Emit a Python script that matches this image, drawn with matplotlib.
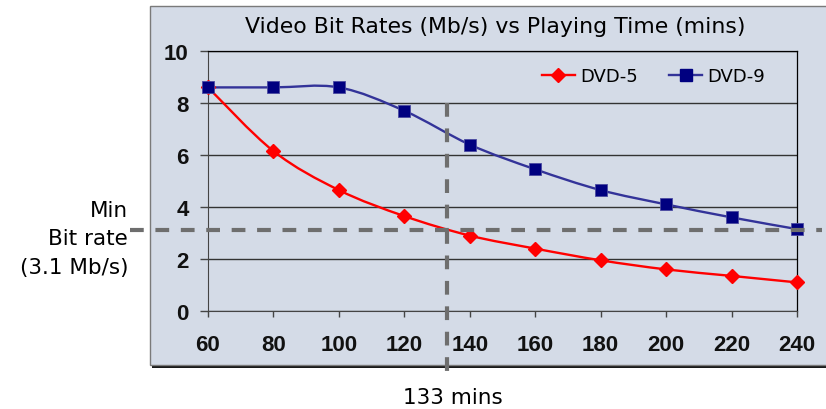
import numpy as np
import matplotlib
matplotlib.use("Agg")
import matplotlib.pyplot as plt
from matplotlib.path import Path
from matplotlib.patches import PathPatch, Rectangle
from matplotlib.lines import Line2D

# Chart data
playing_time = [60, 80, 100, 120, 140, 160, 180, 200, 220, 240]
dvd5_rate = [8.6, 6.15, 4.65, 3.65, 2.9, 2.4, 1.95, 1.6, 1.35, 1.1]
dvd9_rate = [8.6, 8.6, 8.6, 7.7, 6.4, 5.45, 4.65, 4.1, 3.6, 3.15]
min_bit_rate = 3.1
min_time = 133
y_ticks = [0, 2, 4, 6, 8, 10]

bg = '#D4DBE7'


def smooth_path(xs, ys):
    # Excel-style smoothed line: Catmull-Rom segments drawn as cubic Beziers
    pts = np.column_stack([xs, ys]).astype(float)
    n = len(pts)
    verts = [pts[0]]
    codes = [Path.MOVETO]
    for i in range(n - 1):
        p0 = pts[max(i - 1, 0)]
        p1 = pts[i]
        p2 = pts[i + 1]
        p3 = pts[min(i + 2, n - 1)]
        c1 = p1 + (p2 - p0) / 6.0
        c2 = p2 - (p3 - p1) / 6.0
        verts += [c1, c2, p2]
        codes += [Path.CURVE4] * 3
    return Path(verts, codes)


fig = plt.figure(figsize=(8.26, 4.10), dpi=100)
fig.patch.set_facecolor('white')

# Outer chart box with drop shadow (runs off the right edge)
W, H = 826.0, 410.0
x0, y0, x1, y1 = 150, 7, 832, 366
fig.patches.append(Rectangle(((x0 + 2) / W, 1 - (y1 + 3) / H), (x1 - x0) / W, (y1 - y0) / H,
                             transform=fig.transFigure, facecolor='#1a1a1a', edgecolor='none', zorder=-3))
fig.patches.append(Rectangle((x0 / W, 1 - y1 / H), (x1 - x0) / W, (y1 - y0) / H,
                             transform=fig.transFigure, facecolor=bg, edgecolor='#7a7a7a',
                             linewidth=1.0, zorder=-2))

ax = fig.add_axes([208 / W, 1 - 312 / H, 589 / W, 260 / H])
ax.set_facecolor(bg)
ax.set_xlim(60, 240)
ax.set_ylim(0, 10)
ax.set_xticks(playing_time)
ax.set_yticks(y_ticks)
ax.tick_params(axis='both', labelsize=16, width=1, color='#444444')
ax.tick_params(axis='x', length=4.5, pad=12)
ax.tick_params(axis='y', length=6, pad=8)
for lbl in ax.get_xticklabels() + ax.get_yticklabels():
    lbl.set_fontweight('bold')
    lbl.set_fontfamily('Liberation Sans')
    lbl.set_color('#111111')
for s in ['top', 'right']:
    ax.spines[s].set_color('black')
    ax.spines[s].set_linewidth(0.9)
ax.spines['left'].set_color('#444444')
ax.spines['bottom'].set_color('#444444')
ax.grid(axis='y', color='#333333', linewidth=1.0)
ax.set_axisbelow(True)

# Smoothed series lines + markers
ax.add_patch(PathPatch(smooth_path(playing_time, dvd5_rate), facecolor='none',
                       edgecolor='#FF0000', linewidth=1.7, zorder=3))
ax.add_patch(PathPatch(smooth_path(playing_time, dvd9_rate), facecolor='none',
                       edgecolor='#333399', linewidth=1.7, zorder=3))
ax.plot(playing_time, dvd5_rate, linestyle='none', marker='D', markersize=7,
        color='#FF0000', zorder=4, clip_on=False)
ax.plot(playing_time, dvd9_rate, linestyle='none', marker='s', markersize=9,
        color='#000080', markeredgecolor='#4a4aa0', markeredgewidth=0.6, zorder=4, clip_on=False)

# Dashed reference lines
ax.plot([36.2, 247.6], [min_bit_rate, min_bit_rate], linestyle=(0, (3.3, 2.8)), color='#6E6E6E',
        linewidth=3, clip_on=False, zorder=5)
ax.plot([min_time, min_time], [8.0, -2.55], linestyle=(0, (3.3, 2.8)), color='#6E6E6E',
        linewidth=3, clip_on=False, zorder=5)

handles = [Line2D([0], [0], color='#FF0000', marker='D', markersize=7, linewidth=1.7),
           Line2D([0], [0], color='#333399', marker='s', markersize=9, markerfacecolor='#000080',
                  markeredgecolor='#000080', linewidth=1.7)]
ax.legend(handles, ['DVD-5', 'DVD-9'], loc='center right', bbox_to_anchor=(0.9457, 0.904),
          borderaxespad=0, borderpad=0, ncol=2, frameon=False, fontsize=13,
          handlelength=1.8, columnspacing=1.75, handletextpad=0.3)

fig.text(495 / W, 1 - 27 / H, 'Video Bit Rates (Mb/s) vs Playing Time (mins)',
         ha='center', va='center', fontsize=15.8)
fig.text(128 / W, 1 - 211 / H, 'Min', ha='right', va='center', fontsize=15.5)
fig.text(128 / W, 1 - 239 / H, 'Bit rate', ha='right', va='center', fontsize=15.5)
fig.text(128 / W, 1 - 268 / H, '(3.1 Mb/s)', ha='right', va='center', fontsize=15.5)
fig.text(453 / W, 1 - 398 / H, '133 mins', ha='center', va='center', fontsize=15.5)

fig.savefig('out.png', dpi=100, facecolor='white')
